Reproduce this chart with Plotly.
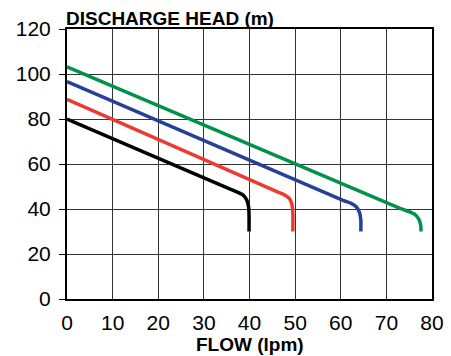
import plotly.graph_objects as go

black_x = [0, 35, 37.1, 38.6, 39.4, 39.8, 39.9, 39.9]
black_y = [80, 49.5, 47.7, 46.2, 44, 41, 37, 30]
red_x = [0, 46, 47.7, 48.8, 49.3, 49.5, 49.5]
red_y = [88.7, 47.7, 46.2, 44.5, 42, 38, 30]
blue_x = [0, 60.5, 62.3, 63.4, 64.1, 64.4, 64.4]
blue_y = [96.6, 43.8, 42.5, 41, 38.5, 35, 30]
green_x = [0, 73, 75, 76.3, 77.1, 77.5, 77.6]
green_y = [103.2, 40.3, 38.8, 37.5, 35.5, 33, 30]

x_ticks = [0, 10, 20, 30, 40, 50, 60, 70, 80]
y_ticks = [0, 20, 40, 60, 80, 100, 120]

series = [
    (black_x, black_y, "#000000"),
    (red_x, red_y, "#ec3b32"),
    (blue_x, blue_y, "#26409a"),
    (green_x, green_y, "#00924a"),
]

fig = go.Figure()
for xs, ys, c in series:
    fig.add_trace(go.Scatter(x=xs, y=ys, mode="lines",
                             line=dict(color=c, width=3.5, shape="spline", smoothing=0.6),
                             showlegend=False, hoverinfo="skip"))

font = "Liberation Sans, Arial, sans-serif"
fig.update_layout(
    width=443, height=348,
    margin=dict(l=59, r=19, t=21, b=57, autoexpand=False),
    paper_bgcolor="white", plot_bgcolor="white",
    font=dict(family=font, color="black"),
    xaxis=dict(range=[0, 80], tickvals=x_ticks, ticks="", showgrid=True,
               gridcolor="#333333", gridwidth=1, zeroline=False,
               showline=True, linecolor="black", linewidth=2, mirror=True,
               tickfont=dict(size=21), ticklabelstandoff=4, automargin=False),
    yaxis=dict(range=[0, 120], tickvals=y_ticks, ticks="outside", ticklen=6,
               tickcolor="black", tickwidth=1, showgrid=True,
               gridcolor="#333333", gridwidth=1, zeroline=False,
               showline=True, linecolor="black", linewidth=2, mirror=True,
               tickfont=dict(size=21), ticklabelstandoff=4, automargin=False),
    annotations=[
        dict(text="<b>DISCHARGE HEAD (m)</b>", xref="paper", yref="paper",
             x=0, y=1, xanchor="left", yanchor="bottom", showarrow=False,
             font=dict(size=19, family=font), xshift=-3, yshift=-2),
        dict(text="<b>FLOW (lpm)</b>", xref="paper", yref="paper",
             x=0.5, y=0, xanchor="center", yanchor="top", showarrow=False,
             font=dict(size=19, family=font), yshift=-33),
    ],
)

fig.write_html("out.html")
